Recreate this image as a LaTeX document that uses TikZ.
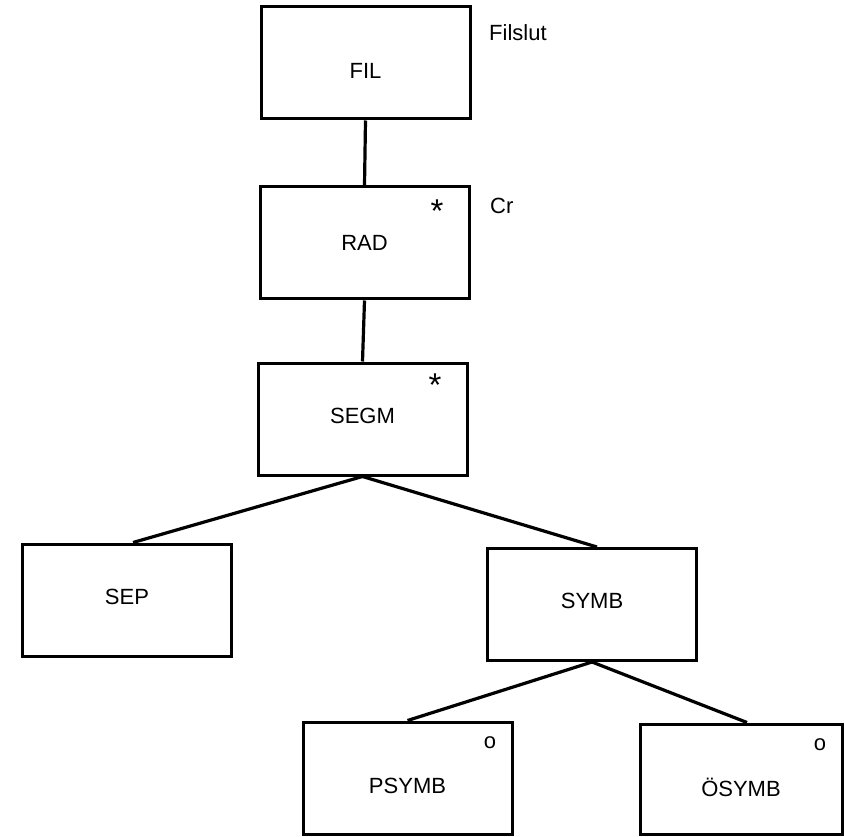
\documentclass[tikz,border=0pt]{standalone}
\usepackage{fontspec}
\setmainfont{Liberation Sans}
\begin{document}
\begin{tikzpicture}[x=1pt,y=-1pt,
  box/.style={draw,line width=3pt,minimum width=209pt,minimum height=112pt,inner sep=0pt},
  txt/.style={font=\fontsize{22}{26}\selectfont,inner sep=0pt},
  conn/.style={line width=3.2pt},
  lbl/.style={font=\fontsize{22}{26}\selectfont,inner sep=0pt,anchor=west},
  starlbl/.style={font=\fontsize{33}{33}\selectfont,inner sep=0pt,anchor=north},
  olbl/.style={font=\fontsize{22}{26}\selectfont,inner sep=0pt}]
\useasboundingbox (0,0) rectangle (844,837);
\node[box] (fil) at (365.5,63) {};
\node[box] (rad) at (364.5,243) {};
\node[box] (segm) at (362.5,419) {};
\node[box] (sep) at (127,600) {};
\node[box] (symb) at (592,604.5) {};
\node[box] (psymb) at (407.5,778) {};
\node[box,minimum width=202pt,minimum height=110pt] (osymb) at (741,779) {};
\node[txt] (filt) at ([yshift=-8pt]fil.center) {FIL};
\node[txt] (radt) at (rad.center) {RAD};
\node[txt] (segmt) at ([yshift=3pt]segm.center) {SEGM};
\node[txt] (sept) at ([yshift=3pt]sep.center) {SEP};
\node[txt] (symbt) at ([yshift=4pt]symb.center) {SYMB};
\node[txt] (psymbt) at ([yshift=-8pt]psymb.center) {PSYMB};
\node[txt] (osymbt) at ([yshift=-8pt]osymb.center) {ÖSYMB};
\node[lbl] (filslut) at (489,33) {Filslut};
\node[lbl] (cr) at (490,206) {Cr};
\node[starlbl] (radstar) at (437,200) {*};
\node[starlbl] (segmstar) at (435,374) {*};
\node[olbl] (po) at (490,743) {o};
\node[olbl] (oo) at (820,745) {o};
\draw[conn] (fil.south) -- (rad.north);
\draw[conn] (rad.south) -- (segm.north);
\draw[conn] (segm.south) -- ([xshift=6pt]sep.north);
\draw[conn] (segm.south) -- ([xshift=5pt]symb.north);
\draw[conn] (symb.south) -- (psymb.north);
\draw[conn] (symb.south) -- ([xshift=6pt]osymb.north);
\end{tikzpicture}
\end{document}
